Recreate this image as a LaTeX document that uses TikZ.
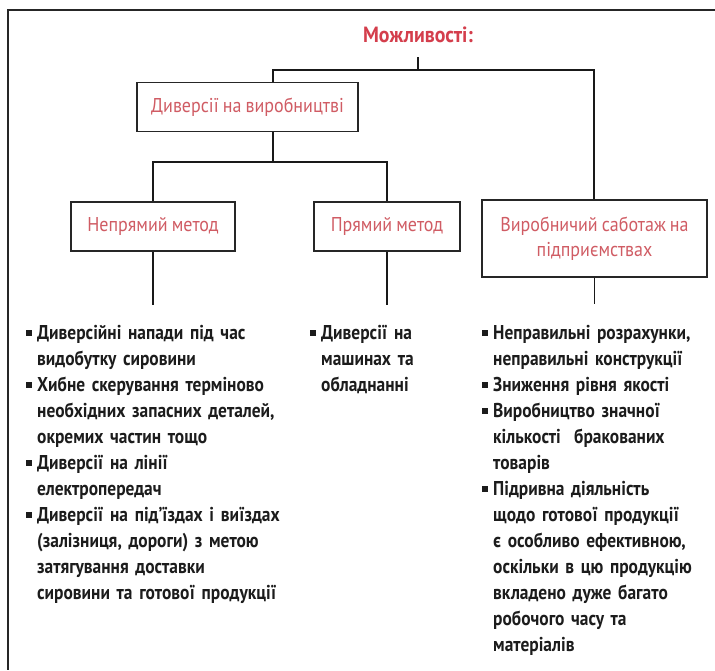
\documentclass[tikz,border=0pt]{standalone}
\usepackage{fontspec}
\setmainfont{PT Sans}[FakeStretch=0.87, WordSpace=0.7]
\newfontfamily\boxfont{PT Sans}[FakeStretch=0.9, WordSpace=0.85]
\definecolor{titlered}{RGB}{212,62,76}
\definecolor{boxred}{RGB}{208,92,100}
\definecolor{bodyblack}{RGB}{28,28,28}
\newcommand{\itm}{\par\hangindent=11pt\hangafter=1\noindent\makebox[11pt][l]{\raisebox{3.5pt}{\rule{6pt}{6pt}}}}
\newcommand{\nl}{\hfil\break}
\begin{document}
\begin{tikzpicture}[x=1pt,y=-1pt,
  frame/.style={line width=1.3pt, draw=black!85},
  conn/.style={line width=1.3pt, draw=black!90},
  hbox/.style={draw=black!85, line width=1.2pt, minimum height=49pt, inner sep=0pt,
    font=\boxfont\fontsize{20}{25}\selectfont, text=boxred, align=center},
  blist/.style={anchor=north west, inner sep=0pt, text width=300pt,
    font=\fontsize{20}{26}\selectfont\bfseries, text=bodyblack}
]
\useasboundingbox (0,0) rectangle (715,670);
\fill[white] (0,0) rectangle (715,670);
\draw[frame] (715,10) -- (8,10) -- (8,670);

\node[font=\boxfont\fontsize{22}{24}\selectfont\bfseries, text=titlered] (title) at (418,35) {Можливості:};
\coordinate (t0) at (418,57);
\coordinate (j1) at (418,70);
\coordinate (jl) at (273,70);
\coordinate (jr) at (594,70);

\node[hbox, minimum width=221pt] (b1) at (247.5,107) {Диверсії на виробництві};
\node[hbox, minimum width=164pt] (b2) at (153,226.5) {Непрямий метод};
\node[hbox, minimum width=146pt] (b3) at (387,226.5) {Прямий метод};
\node[hbox, minimum width=225pt, minimum height=77pt] (b4) at (594.5,238.5) {Виробничий саботаж на\\підприємствах};

\draw[conn] (t0) -- (j1);
\draw[conn] (jl |- b1.north) -- (jl) -- (jr) -- (jr |- b4.north);

\coordinate (j2) at (273,162);
\coordinate (j2l) at (153,162);
\coordinate (j2r) at (387,162);
\draw[conn] (j2 |- b1.south) -- (j2);
\draw[conn] (b2.north) -- (j2l) -- (j2r) -- (b3.north);

\coordinate (e2) at (153,305);
\coordinate (e3) at (387,305);
\coordinate (e4) at (594.5,304);
\draw[conn] (b2.south) -- (e2);
\draw[conn] (b3.south) -- (e3);
\draw[conn] (b4.south) -- (e4);

\node[blist] (l1) at (26,313) {%
\itm Диверсійні напади під час\nl видобутку сировини
\itm Хибне скерування терміново\nl необхідних запасних деталей,\nl окремих частин тощо
\itm Диверсії на лінії\nl електропередач
\itm Диверсії на під’їздах і виїздах\nl (залізниця, дороги) з метою\nl затягування доставки\nl сировини та готової продукції\par};

\node[blist] (l2) at (310,313) {%
\itm Диверсії на\nl машинах та\nl обладнанні\par};

\node[blist] (l3) at (482,313) {%
\itm Неправильні розрахунки,\nl неправильні конструкції
\itm Зниження рівня якості
\itm Виробництво значної\nl кількості\ \ бракованих\nl товарів
\itm Підривна діяльність\nl щодо готової продукції\nl є особливо ефективною,\nl оскільки в цю продукцію\nl вкладено дуже багато\nl робочого часу та\nl матеріалів\par};
\end{tikzpicture}
\end{document}
